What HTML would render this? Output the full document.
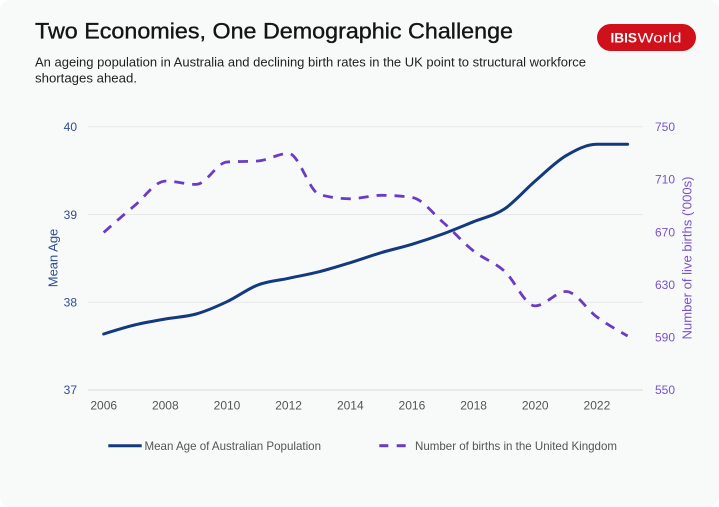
<!DOCTYPE html>
<html>
<head>
<meta charset="utf-8">
<style>
  html,body{margin:0;padding:0;background:#ffffff;}
  svg{display:block;}
  text{font-family:"Liberation Sans",sans-serif;}
</style>
</head>
<body>
<svg id="c" width="719" height="507" viewBox="0 0 719 507" xmlns="http://www.w3.org/2000/svg">
  <rect x="0" y="0" width="719" height="507" rx="11" fill="#f8f9f9"/>
  <!-- Title -->
  <text x="35" y="38.5" font-size="22" fill="#141414" stroke="#141414" stroke-width="0.35" textLength="478" lengthAdjust="spacingAndGlyphs">Two Economies, One Demographic Challenge</text>
  <text x="35" y="66.5" font-size="13" fill="#222" textLength="551" lengthAdjust="spacingAndGlyphs">An ageing population in Australia and declining birth rates in the UK point to structural workforce</text>
  <text x="35" y="82.5" font-size="13" fill="#222" textLength="102" lengthAdjust="spacingAndGlyphs">shortages ahead.</text>
  <!-- Logo -->
  <rect x="597" y="24" width="99" height="27" rx="13.5" fill="#d0111c"/>
  <text x="610.5" y="42.5" font-size="14" font-weight="bold" fill="#fff" textLength="26.5" lengthAdjust="spacingAndGlyphs">IBIS</text>
  <text x="637.5" y="42.5" font-size="14" fill="#fff" textLength="44" lengthAdjust="spacingAndGlyphs">World</text>

  <!-- Grid -->
  <g stroke="#e7e9e9" stroke-width="1">
    <line x1="88" y1="126.7" x2="643" y2="126.7"/>
    <line x1="88" y1="214.5" x2="643" y2="214.5"/>
    <line x1="88" y1="302.3" x2="643" y2="302.3"/>
  </g>
  <line x1="88" y1="390" x2="643" y2="390" stroke="#e2e4e4" stroke-width="1.5"/>

  <!-- Left ticks -->
  <g font-size="12" fill="#2f4f8f" text-anchor="end">
    <text x="77" y="131">40</text>
    <text x="77" y="219">39</text>
    <text x="77" y="306.5">38</text>
    <text x="77" y="394">37</text>
  </g>
  <text transform="translate(57.5,258) rotate(-90)" font-size="13" fill="#2f4f8f" text-anchor="middle">Mean Age</text>

  <!-- Right ticks -->
  <g font-size="12" fill="#7a52d1">
    <text x="655" y="131">750</text>
    <text x="655" y="183.6">710</text>
    <text x="655" y="236.3">670</text>
    <text x="655" y="289">630</text>
    <text x="655" y="341.7">590</text>
    <text x="655" y="394">550</text>
  </g>
  <text transform="translate(691.5,258) rotate(-90)" font-size="13" fill="#7a52d1" text-anchor="middle" textLength="163" lengthAdjust="spacingAndGlyphs">Number of live births ('000s)</text>

  <!-- X ticks -->
  <g font-size="12" fill="#555" text-anchor="middle">
    <text x="103.7" y="409.5">2006</text>
    <text x="165.3" y="409.5">2008</text>
    <text x="227" y="409.5">2010</text>
    <text x="288.6" y="409.5">2012</text>
    <text x="350.3" y="409.5">2014</text>
    <text x="411.9" y="409.5">2016</text>
    <text x="473.6" y="409.5">2018</text>
    <text x="535.2" y="409.5">2020</text>
    <text x="596.9" y="409.5">2022</text>
  </g>

  <path id="purple" d="" fill="none" stroke="#6a3cc6" stroke-width="2.8" stroke-dasharray="10 8"/>
  <path id="navy" d="" fill="none" stroke="#143a7e" stroke-width="3" stroke-linecap="round"/>

  <!-- Legend -->
  <line x1="108.3" y1="445.7" x2="141.7" y2="445.7" stroke="#143a7e" stroke-width="3"/>
  <text x="144.5" y="449.8" font-size="12" fill="#555" textLength="176.5" lengthAdjust="spacingAndGlyphs">Mean Age of Australian Population</text>
  <line x1="379.3" y1="445.7" x2="388.3" y2="445.7" stroke="#6a3cc6" stroke-width="3"/>
  <line x1="396.7" y1="445.7" x2="405.7" y2="445.7" stroke="#6a3cc6" stroke-width="3"/>
  <text x="415" y="449.8" font-size="12" fill="#555" textLength="202" lengthAdjust="spacingAndGlyphs">Number of births in the United Kingdom</text>
</svg>
<script>
(function(){
  function xs(){var a=[];for(var i=0;i<18;i++)a.push(103.7+i*30.82);return a;}
  var X=xs();
  var navy=[334,325,319,314,301.7,285,278.3,271.7,262.7,252.7,244.3,234,221.7,209,181,155.7,144.3,144.3];
  var purple=[232.5,205.7,181.1,184.4,162,161,153.4,194.5,198.8,195.3,197.4,222,251,271,305.9,291.5,316.9,336];
  function sign(v){return v<0?-1:1;}
  function monotone(x,y){
    var n=x.length,d=[],m=[],i;
    for(i=0;i<n-1;i++){d.push((y[i+1]-y[i])/(x[i+1]-x[i]));}
    m[0]=d[0];m[n-1]=d[n-2];
    for(i=1;i<n-1;i++){
      var h0=x[i]-x[i-1],h1=x[i+1]-x[i],s0=d[i-1],s1=d[i];
      var p=(s0*h1+s1*h0)/(h0+h1);
      m[i]=(sign(s0)+sign(s1))*Math.min(Math.abs(s0),Math.abs(s1),0.5*Math.abs(p))||0;
    }
    // endpoints like d3
    var h=x[1]-x[0]; m[0]=h?(3*(y[1]-y[0])/h-m[1])/2:m[1];
    h=x[n-1]-x[n-2]; m[n-1]=h?(3*(y[n-1]-y[n-2])/h-m[n-2])/2:m[n-2];
    var s="M"+x[0].toFixed(2)+","+y[0].toFixed(2);
    for(i=0;i<n-1;i++){
      var dx=(x[i+1]-x[i])/3;
      s+="C"+(x[i]+dx).toFixed(2)+","+(y[i]+dx*m[i]).toFixed(2)+" "+(x[i+1]-dx).toFixed(2)+","+(y[i+1]-dx*m[i+1]).toFixed(2)+" "+x[i+1].toFixed(2)+","+y[i+1].toFixed(2);
    }
    return s;
  }
  document.getElementById('navy').setAttribute('d',monotone(X,navy));
  document.getElementById('purple').setAttribute('d',monotone(X,purple));
})();
</script>
</body>
</html>
